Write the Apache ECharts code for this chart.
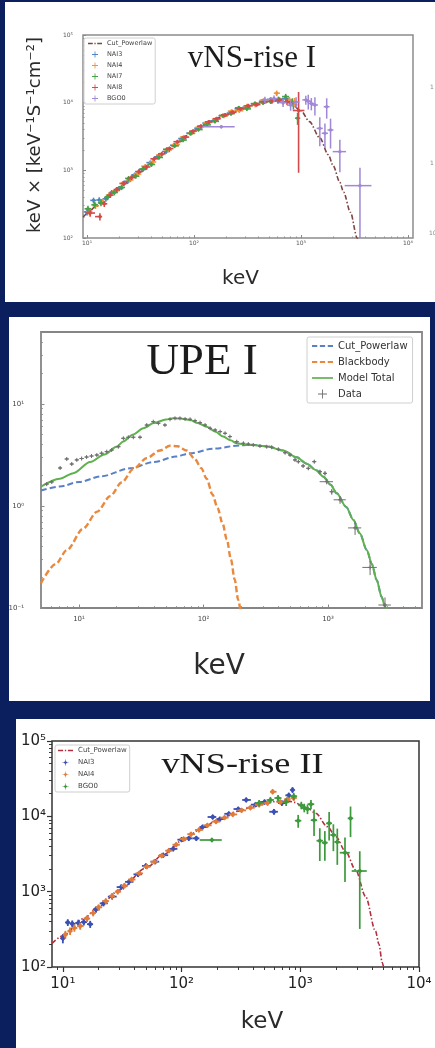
<!DOCTYPE html>
<html>
<head>
<meta charset="utf-8">
<script src="https://cdn.jsdelivr.net/npm/echarts@6/dist/echarts.min.js"></script>
<style>
  html, body { margin: 0; padding: 0; width: 435px; height: 1048px; overflow: hidden; background: #0b1f5e; }
  .panel { position: absolute; background: #ffffff; }
  #chart { position: absolute; left: 0; top: 0; width: 435px; height: 1048px; }
</style>
</head>
<body>
<div class="panel" style="left:5px;top:2px;width:440px;height:300px"></div>
<div class="panel" style="left:9px;top:317px;width:421px;height:384px"></div>
<div class="panel" style="left:16px;top:719px;width:430px;height:340px"></div>
<div id="chart"></div>
<script>
// ---------- vNS-rise I : energy (keV), keV^2 N(E) ----------
const riseI_model = [[9.2,205],[10,228],[12,290],[15,390],[20,560],[30,920],[50,1750],[70,2550],[100,3900],[150,5500],[200,6700],[300,8400],[400,9700],[500,10500],[600,10800],[700,10600],[800,9800],[1000,7600],[1200,5250],[1500,3020],[1800,1700],[2000,1175],[2300,676],[2500,479],[2900,240],[3350,100],[3500,74]];
// NaI points: [E, flux, flux error]
const riseI_NAI3 = [[10,243,28],[11.5,360,34],[13,365,34],[15,380,36],[17,470,42],[20,540,48],[24,690,60],[28,860,72],[33,1030,85],[39,1300,100],[46,1580,120],[55,1900,145],[65,2350,170],[78,2950,210],[92,3550,250],[110,4200,290],[130,5000,340],[155,5400,370],[185,6400,430],[220,7000,480],[260,8100,550],[310,8600,600],[370,9600,680],[440,10400,780],[520,11200,900],[610,10600,1000],[720,11500,1200],[850,9300,1400]];
const riseI_NAI4 = [[10.5,245,28],[12,300,32],[14,345,35],[16,430,40],[18.5,500,45],[21.5,640,55],[25,720,60],[29.5,880,72],[35,1150,90],[41,1330,105],[48,1700,125],[57,2000,145],[68,2400,170],[80,3100,210],[95,3550,250],[112,4350,295],[135,5100,345],[160,5700,390],[190,6300,430],[225,7500,510],[265,7600,540],[315,9000,630],[375,9200,680],[445,10800,800],[525,11000,880],[593,13800,1300],[680,10300,1050],[780,11000,1200],[870,10200,1500]];
const riseI_NAI7 = [[10.2,270,30],[11.8,310,34],[13.5,330,35],[15.5,400,40],[18,470,44],[21,560,50],[24.5,760,65],[28.5,820,70],[33.5,1050,88],[40,1220,100],[47,1550,120],[56,2050,150],[66,2300,170],[79,2800,200],[93,3500,245],[110,4000,280],[132,4700,330],[157,5300,365],[187,6500,440],[222,6900,480],[262,8400,570],[312,8100,580],[372,9700,680],[442,10000,750],[520,10400,840],[615,11300,1000],[720,12300,1200],[830,10200,1400],[930,5900,1200]];
const riseI_NAI8 = [[10.7,234,28],[13.2,207,25],[14.5,320,33],[16.5,430,40],[19,520,47],[22,640,54],[26,780,65],[30.5,960,78],[36,1120,90],[42.5,1480,112],[50,1750,130],[59,2100,150],[70,2650,180],[83,3100,210],[98,3800,255],[116,4500,300],[138,5200,350],[163,5800,390],[195,6600,450],[230,7200,500],[272,8100,560],[322,9000,630],[385,9400,680],[455,10300,770],[535,10500,850],[630,11000,1000],[740,10300,1100],[950,7660,6740]];
// BGO points: [E, flux, energy half-width, flux error]
const riseI_BGO0 = [[180,4400,60,250],[460,11000,40,1200],[560,11500,45,1300],[680,10000,55,1400],[800,9200,60,1600],[900,10200,70,1800],[1110,11000,80,1700],[1170,10500,80,2600],[1250,9700,80,2000],[1350,9250,90,2800],[1500,4170,100,1900],[1675,3530,110,1400],[1740,8700,110,2900],[1890,3950,120,1850],[2310,1890,330,950],[3560,594,1000,500]];

// ---------- UPE I ----------
const upe_cpl = [[4.95,1.42],[7,1.55],[10,1.72],[15,1.95],[25.7,2.34],[40,2.7],[60,3.05],[78,3.29],[120,3.65],[196,3.93],[250,3.98],[320,3.85],[437,3.5],[560,3.0],[675,2.6],[800,2.25],[918,1.94],[1050,1.62],[1175,1.33],[1400,0.98],[1600,0.73],[1800,0.54],[2050,0.37],[2250,0.27],[2460,0.188],[2700,0.128],[2870,0.103],[3050,0.085]];
const upe_bb = [[4.95,0.175],[6.5,0.27],[8,0.37],[10.8,0.6],[14,0.88],[17.8,1.25],[22,1.7],[27.3,2.3],[35,2.95],[44.7,3.5],[53.8,3.9],[62,3.85],[73.3,3.5],[85,2.9],[96,2.35],[106,1.85],[118,1.3],[130,0.95],[142,0.68],[154,0.47],[166,0.3],[178,0.19],[190,0.12],[200,0.085]];
const upe_total = [[4.95,1.55],[7,1.85],[9,2.1],[12.3,2.7],[16,3.2],[20,3.8],[22.7,4.3],[27,5.0],[32.9,5.78],[40,6.5],[50,7.05],[57.3,7.24],[65,7.2],[78,6.97],[90,6.5],[106,6.0],[125,5.35],[144,4.79],[165,4.4],[185,4.12],[220,3.98],[251,3.96],[320,3.85],[437,3.5],[560,3.0],[675,2.6],[800,2.25],[918,1.94],[1050,1.62],[1175,1.33],[1400,0.98],[1600,0.73],[1800,0.54],[2050,0.37],[2250,0.27],[2460,0.188],[2700,0.128],[2870,0.103],[3050,0.085]];
// [E, flux, energy half-width, flux error]
const upe_data = [[5.5,1.64,0.2,0.05],[6.04,1.72,0.2,0.05],[7.05,2.36,0.25,0.07],[7.97,2.89,0.3,0.08],[8.74,2.58,0.3,0.07],[9.6,2.83,0.35,0.07],[10.5,2.92,0.4,0.07],[11.5,3.02,0.4,0.07],[12.6,3.09,0.45,0.07],[13.9,3.16,0.5,0.07],[15.2,3.29,0.55,0.07],[16.7,3.41,0.6,0.07],[18.3,3.54,0.65,0.08],[20.7,3.81,0.8,0.08],[22.7,4.61,0.8,0.09],[24.9,4.72,0.9,0.09],[27.3,4.72,1.0,0.09],[30.9,4.72,1.1,0.09],[35,6.22,1.2,0.12],[39.5,6.71,1.4,0.12],[43.4,6.47,1.5,0.12],[49,6.22,1.7,0.12],[53.8,7.08,1.9,0.12],[59,7.24,2,0.12],[64.7,7.24,2.2,0.12],[71.1,7.13,2.5,0.12],[78,7.08,2.7,0.12],[85.5,6.85,3,0.12],[93.8,6.56,3.3,0.12],[103,6.22,3.6,0.12],[113,5.78,4,0.11],[124,5.56,4.3,0.11],[136,5.36,4.7,0.1],[149,5.16,5.2,0.1],[163,4.79,5.7,0.1],[185,4.27,6.5,0.09],[209,4.12,7,0.09],[229,4.05,8,0.09],[251,3.96,9,0.08],[284,3.87,10,0.08],[322,3.81,11,0.08],[353,3.77,12,0.08],[399,3.6,14,0.08],[452,3.33,16,0.08],[496,3.16,17,0.08],[543,2.83,19,0.08],[578,2.72,20,0.08],[631,2.47,22,0.08],[695,2.34,24,0.08],[776,2.72,27,0.09],[862,2.17,30,0.09],[946,2.09,33,0.09],[977,1.73,120,0.1],[1072,1.38,40,0.09],[1250,1.15,140,0.1],[1650,0.61,200,0.09],[2178,0.25,290,0.04],[2870,0.107,330,0.02]];

// ---------- vNS-rise II ----------
const riseII_model = [[8.1,206],[10,260],[15,440],[20,640],[30,1050],[50,2050],[70,3100],[100,4700],[150,7000],[200,8900],[300,11700],[400,13500],[500,14800],[600,15600],[700,16000],[800,15900],[900,15300],[1000,14200],[1150,12800],[1350,11000],[1690,7300],[1990,5400],[2410,3400],[2925,1940],[3550,860],[4300,300],[4600,200],[4900,115],[5100,88]];
const riseII_NAI3 = [[10,240,34],[11,390,40],[12,375,40],[13.5,385,40],[15,395,40],[17,370,40],[19,580,55],[22,700,62],[26,860,75],[31,1150,95],[36,1350,110],[43,1700,130],[50,2200,165],[60,2500,185],[70,3050,220],[85,3700,260],[100,4900,340],[115,5100,360],[133,5100,380],[150,7200,500],[183,9800,650],[210,9200,640],[250,10800,740],[300,12500,860],[350,16500,1150],[420,14300,1050],[500,15500,1150],[600,11500,1000],[700,15000,1250],[800,19000,1600],[860,22400,1900]];
const riseII_NAI4 = [[10.5,270,32],[11.5,300,34],[12.5,330,36],[14,350,38],[16,440,44],[18,520,50],[20,620,56],[23,750,66],[26,880,75],[29,1000,82],[33,1200,96],[38,1450,112],[44,1750,132],[51,2150,158],[59,2500,180],[68,3000,210],[78,3500,240],[90,4200,290],[104,5000,340],[120,5800,390],[140,6600,440],[165,7600,500],[195,8500,560],[230,9600,630],[270,10600,700],[320,12000,800],[380,13000,880],[450,14200,980],[530,15000,1080],[585,21200,1500],[680,15500,1200],[780,16800,1350],[880,17500,1500]];
const riseII_BGO0 = [[180,4850,38,300],[450,15000,35,1500],[560,16500,40,1600],[650,17500,45,1700],[760,15500,50,1800],[880,18500,60,2000],[960,8750,60,1700],[1020,14000,60,1600],[1080,13000,70,1700],[1150,12500,70,1800],[1230,14500,80,2000],[1306,8900,80,3400],[1460,4750,90,2200],[1610,4470,90,1900],[1750,8080,100,3300],[1900,5650,110,2200],[2050,4570,110,2300],[2380,3290,230,1950],[2650,9400,140,4100],[3170,1880,460,1560]];

// decade tick positions (log10 of keV / flux)
const ticksX_I = [1, 2, 3, 4],  ticksY_I = [2, 3, 4, 5];
const ticksX_U = [1, 2, 3],     ticksY_U = [-1, 0, 1];
const ticksX_II = [1, 2, 3, 4], ticksY_II = [2, 3, 4, 5];

// legend text for each series
const LEGEND_TEXT = {
  i_cpl: 'Cut_Powerlaw', i_n3: 'NAI3', i_n4: 'NAI4', i_n7: 'NAI7', i_n8: 'NAI8', i_b0: 'BGO0',
  u_cpl: 'Cut_Powerlaw', u_bb: 'Blackbody', u_tot: 'Model Total', u_data: 'Data',
  ii_cpl: 'Cut_Powerlaw', ii_n3: 'NAI3', ii_n4: 'NAI4', ii_b0: 'BGO0'
};

const lg = Math.log10;
const SUP = { '-': '\u207B', '0': '\u2070', '1': '\u00B9', '2': '\u00B2', '3': '\u00B3', '4': '\u2074', '5': '\u2075' };
const pow10 = v => '10' + String(Math.round(v)).split('').map(c => SUP[c]).join('');

function curve(arr) { return arr.map(p => [lg(p[0]), lg(p[1])]); }
// NaI channels: horizontal bar spans the bin, edges half-way (in log) to neighbouring channels
function naiPoints(arr) {
  return arr.map((p, i) => {
    const e = p[0];
    const prev = i > 0 ? arr[i - 1][0] : e * e / arr[i + 1][0];
    const next = i < arr.length - 1 ? arr[i + 1][0] : e * e / arr[i - 1][0];
    const lo = Math.sqrt(prev * e), hi = Math.sqrt(e * next);
    return [lg(e), lg(p[1]), lg(lo), lg(hi), lg(Math.max(p[1] - p[2], p[1] * 1e-3)), lg(p[1] + p[2])];
  });
}
function binPoints(arr) {
  return arr.map(p => [lg(p[0]), lg(p[1]), lg(Math.max(p[0] - p[2], p[0] * 1e-3)), lg(p[0] + p[2]),
                       lg(Math.max(p[1] - p[3], p[1] * 1e-3)), lg(p[1] + p[3])]);
}
function minorValues(lo, hi) {
  const out = [];
  for (let n = Math.floor(lo) - 1; n <= Math.ceil(hi); n++)
    for (let k = 2; k <= 9; k++) { const v = n + lg(k); if (v > lo && v < hi) out.push(v); }
  return out;
}

// error-bar cross with a marker in the middle
function errItem(marker, lw, ms) {
  return function (params, api) {
    const c = api.coord([api.value(0), api.value(1)]);
    const l = api.coord([api.value(2), api.value(1)]);
    const r = api.coord([api.value(3), api.value(1)]);
    const b = api.coord([api.value(0), api.value(4)]);
    const t = api.coord([api.value(0), api.value(5)]);
    const color = api.visual('color');
    const st = { stroke: color, lineWidth: lw, fill: null };
    const kids = [
      { type: 'line', shape: { x1: l[0], y1: c[1], x2: r[0], y2: c[1] }, style: st },
      { type: 'line', shape: { x1: c[0], y1: b[1], x2: c[0], y2: t[1] }, style: st }
    ];
    if (marker === 'circle') {
      kids.push({ type: 'circle', shape: { cx: c[0], cy: c[1], r: ms }, style: { fill: color } });
    } else if (marker === 'diamond') {
      kids.push({ type: 'polygon', shape: { points: [[c[0], c[1] - ms], [c[0] + ms, c[1]], [c[0], c[1] + ms], [c[0] - ms, c[1]]] }, style: { fill: color } });
    } else if (marker === 'plus') {
      kids.push({ type: 'line', shape: { x1: c[0] - ms, y1: c[1], x2: c[0] + ms, y2: c[1] }, style: st });
      kids.push({ type: 'line', shape: { x1: c[0], y1: c[1] - ms, x2: c[0], y2: c[1] + ms }, style: st });
    }
    const cs = params.coordSys;
    return { type: 'group', children: kids, clipPath: { type: 'rect', shape: { x: cs.x, y: cs.y, width: cs.width, height: cs.height } } };
  };
}
function errSeries(name, panel, data, color, marker, lw, ms, z) {
  return { type: 'custom', name, xAxisIndex: 2 * panel, yAxisIndex: 2 * panel, data,
           encode: { x: 0, y: 1 }, itemStyle: { color }, renderItem: errItem(marker, lw, ms), z: z || 3, silent: true };
}
function lineSeries(name, panel, data, color, width, dash, z) {
  return { type: 'line', name, xAxisIndex: 2 * panel, yAxisIndex: 2 * panel, data: curve(data),
           symbol: 'none', showSymbol: false, smooth: 0.3, smoothMonotone: 'x', clip: true,
           lineStyle: { color, width, type: dash }, itemStyle: { color }, z: z || 2, silent: true };
}

// major axis (labels + long ticks) and a companion axis carrying the 2..9 minor ticks
function axisPair(dim, grid, ext, majors, st) {
  const base = { type: 'value', gridIndex: grid, min: ext[0], max: ext[1], position: dim === 'x' ? 'bottom' : 'left',
                 axisLine: { show: false, onZero: false }, splitLine: { show: false }, silent: true };
  const major = Object.assign({}, base, {
    axisTick: { show: true, inside: st.inside, length: st.major, customValues: majors, lineStyle: { color: st.tick, width: st.tickW } },
    axisLabel: { show: true, customValues: majors, formatter: pow10, fontSize: st.fs, color: st.label,
                 margin: st.margin[dim], fontFamily: 'DejaVu Sans' }
  });
  const minor = Object.assign({}, base, {
    axisTick: { show: true, inside: st.inside, length: st.minor, customValues: minorValues(ext[0], ext[1]), lineStyle: { color: st.tick, width: st.tickW * 0.8 } },
    axisLabel: { show: false }
  });
  return [major, minor];
}

const EXT = {
  x1: [lg(9.17), lg(11150)], y1: [2, 5],
  x2: [lg(4.95), lg(5690)],  y2: [-1, lg(50.8)],
  x3: [lg(8.1), 4],          y3: [2, 5]
};
const ST1 = { inside: true, major: 3, minor: 1.6, tick: '#8a8a8a', tickW: 1, fs: 6, label: '#555', margin: { x: 2, y: 10 } };
const ST2 = { inside: true, major: 3.5, minor: 2, tick: '#8a8a8a', tickW: 1, fs: 7, label: '#444', margin: { x: 8, y: 17 } };
const ST3 = { inside: false, major: 5, minor: 3, tick: '#333', tickW: 1.2, fs: 15, label: '#222', margin: { x: 10, y: 6 } };

// legend glyphs
const PLUS = 'path://M4.3,0H5.7V10H4.3Z M0,4.3H10V5.7H0Z';
const PLUS_THIN = 'path://M4.5,0H5.5V10H4.5Z M0,4.5H10V5.5H0Z';
const DIAMOND_PLUS = 'path://M5,2L8,5L5,8L2,5Z M4.5,0H5.5V10H4.5Z M0,4.5H10V5.5H0Z';
const DASHED = 'path://M0,0H5V2H0Z M7.5,0H12.5V2H7.5Z M15,0H20V2H15Z';
const DASHDOT = 'path://M0,0H6V1.6H0Z M8,0H9.6V1.6H8Z M11.6,0H17.6V1.6H11.6Z';
const SOLID = 'path://M0,0H20V1.6H0Z';

const C1 = { cpl: '#7f4343', n3: '#4f84c4', n4: '#f0923a', n7: '#44a244', n8: '#d24a4a', b0: '#a088d6' };
const C2 = { cpl: '#5a80c6', bb: '#e8893e', tot: '#5fb14f', data: '#707070' };
const C3 = { cpl: '#b0303f', n3: '#3b50b5', n4: '#e07b3a', b0: '#3c9a3c' };

const legendBase = { orient: 'vertical', selectedMode: false, formatter: n => LEGEND_TEXT[n],
                     backgroundColor: 'rgba(255,255,255,0.85)', borderColor: '#cfcfcf', borderWidth: 1, borderRadius: 2 };

const option = {
  animation: false,
  backgroundColor: 'transparent',
  textStyle: { fontFamily: 'DejaVu Sans' },
  grid: [
    { left: 83, top: 35, width: 330, height: 203, show: true, borderColor: '#8c8c8c', borderWidth: 1.5, backgroundColor: 'transparent' },
    { left: 41, top: 332, width: 381, height: 276, show: true, borderColor: '#858585', borderWidth: 1.8, backgroundColor: 'transparent' },
    { left: 52, top: 741, width: 367, height: 226, show: true, borderColor: '#333', borderWidth: 1.5, backgroundColor: 'transparent' }
  ],
  xAxis: [
    ...axisPair('x', 0, EXT.x1, ticksX_I, ST1),
    ...axisPair('x', 1, EXT.x2, ticksX_U, ST2),
    ...axisPair('x', 2, EXT.x3, ticksX_II, ST3)
  ],
  yAxis: [
    ...axisPair('y', 0, EXT.y1, ticksY_I, ST1),
    ...axisPair('y', 1, EXT.y2, ticksY_U, ST2),
    ...axisPair('y', 2, EXT.y3, ticksY_II, ST3)
  ],
  legend: [
    Object.assign({}, legendBase, {
      left: 84, top: 38, padding: [2, 3, 2, 4], itemWidth: 14, itemHeight: 6, itemGap: 4,
      textStyle: { fontSize: 6.5, color: '#444', fontFamily: 'DejaVu Sans' },
      data: [{ name: 'i_cpl', icon: DASHDOT }, { name: 'i_n3', icon: PLUS }, { name: 'i_n4', icon: PLUS }, { name: 'i_n7', icon: PLUS }, { name: 'i_n8', icon: PLUS }, { name: 'i_b0', icon: PLUS }]
    }),
    Object.assign({}, legendBase, {
      left: 307, top: 337, padding: [4, 5, 4, 5], itemWidth: 21, itemHeight: 9, itemGap: 6,
      textStyle: { fontSize: 10, color: '#333', fontFamily: 'DejaVu Sans' },
      data: [{ name: 'u_cpl', icon: DASHED }, { name: 'u_bb', icon: DASHED }, { name: 'u_tot', icon: SOLID }, { name: 'u_data', icon: PLUS_THIN }]
    }),
    Object.assign({}, legendBase, {
      left: 55, top: 745, padding: [2, 3, 2, 3], itemWidth: 15, itemHeight: 6, itemGap: 5,
      textStyle: { fontSize: 7, color: '#444', fontFamily: 'DejaVu Sans' },
      data: [{ name: 'ii_cpl', icon: DASHDOT }, { name: 'ii_n3', icon: DIAMOND_PLUS }, { name: 'ii_n4', icon: DIAMOND_PLUS }, { name: 'ii_b0', icon: DIAMOND_PLUS }]
    })
  ],
  series: [
    // vNS-rise I
    lineSeries('i_cpl', 0, riseI_model, C1.cpl, 1.6, [5, 2, 1.5, 2], 2),
    errSeries('i_n3', 0, naiPoints(riseI_NAI3), C1.n3, 'circle', 1.6, 1.7),
    errSeries('i_n4', 0, naiPoints(riseI_NAI4), C1.n4, 'circle', 1.6, 1.7),
    errSeries('i_n7', 0, naiPoints(riseI_NAI7), C1.n7, 'circle', 1.6, 1.7),
    errSeries('i_n8', 0, naiPoints(riseI_NAI8), C1.n8, 'circle', 1.6, 1.7),
    errSeries('i_b0', 0, binPoints(riseI_BGO0), C1.b0, 'circle', 1.5, 1.7),
    // UPE I
    lineSeries('u_cpl', 1, upe_cpl, C2.cpl, 2, [6, 3], 2),
    lineSeries('u_bb', 1, upe_bb, C2.bb, 2.4, [6, 3], 3),
    lineSeries('u_tot', 1, upe_total, C2.tot, 2, 'solid', 4),
    errSeries('u_data', 1, binPoints(upe_data), C2.data, 'plus', 1, 2, 5),
    // vNS-rise II
    lineSeries('ii_cpl', 2, riseII_model, C3.cpl, 1.6, [5, 2, 1.5, 2], 2),
    errSeries('ii_n3', 2, naiPoints(riseII_NAI3), C3.n3, 'diamond', 1.8, 2.9),
    errSeries('ii_n4', 2, naiPoints(riseII_NAI4), C3.n4, 'diamond', 1.8, 2.9),
    errSeries('ii_b0', 2, binPoints(riseII_BGO0), C3.b0, 'diamond', 1.7, 2.7)
  ],
  graphic: [
    { type: 'text', x: 252, y: 59, style: { text: 'vNS-rise I', fontSize: 31, fontFamily: 'Liberation Serif', fill: '#1c1c1c', align: 'center', verticalAlign: 'middle' } },
    { type: 'text', x: 35, y: 135, rotation: Math.PI / 2, style: { text: 'keV \u00D7 [keV\u207B\u00B9S\u207B\u00B9cm\u207B\u00B2]', fontSize: 18, fontFamily: 'DejaVu Sans', fill: '#2b2b2b', align: 'center', verticalAlign: 'middle' } },
    { type: 'text', x: 240.5, y: 279, style: { text: 'keV', fontSize: 20, fontFamily: 'DejaVu Sans', fill: '#2b2b2b', align: 'center', verticalAlign: 'middle' } },
    { type: 'text', x: 430, y: 87, style: { text: '1', fontSize: 6, fontFamily: 'DejaVu Sans', fill: '#888', align: 'left', verticalAlign: 'middle' } },
    { type: 'text', x: 430, y: 163, style: { text: '1', fontSize: 6, fontFamily: 'DejaVu Sans', fill: '#888', align: 'left', verticalAlign: 'middle' } },
    { type: 'text', x: 429, y: 233, style: { text: '10', fontSize: 6, fontFamily: 'DejaVu Sans', fill: '#888', align: 'left', verticalAlign: 'middle' } },
    { type: 'text', x: 202, y: 362, style: { text: 'UPE I', fontSize: 45, fontFamily: 'Liberation Serif', fill: '#1c1c1c', align: 'center', verticalAlign: 'middle' } },
    { type: 'text', x: 219, y: 667, style: { text: 'keV', fontSize: 28, fontFamily: 'DejaVu Sans', fill: '#2b2b2b', align: 'center', verticalAlign: 'middle' } },
    { type: 'text', x: 242.5, y: 765.5, scaleX: 1.25, style: { text: 'vNS-rise II', fontSize: 29, fontFamily: 'Liberation Serif', fill: '#1c1c1c', align: 'center', verticalAlign: 'middle' } },
    { type: 'text', x: 262, y: 1022, style: { text: 'keV', fontSize: 23, fontFamily: 'DejaVu Sans', fill: '#2b2b2b', align: 'center', verticalAlign: 'middle' } }
  ]
};

const chart = echarts.init(document.getElementById('chart'), null, { renderer: 'canvas' });
chart.setOption(option);
</script>
</body>
</html>
